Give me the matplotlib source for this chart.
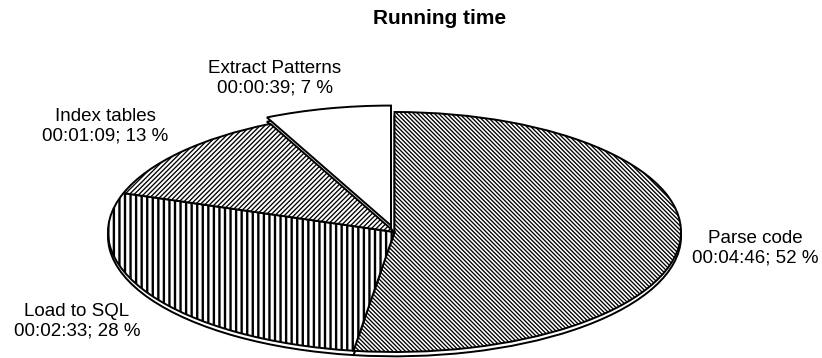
import matplotlib
matplotlib.use("Agg")
import matplotlib.pyplot as plt

plt.rcParams['font.family'] = ['Liberation Sans', 'DejaVu Sans']

# Running time per stage, in seconds
stages = ["Parse code", "Load to SQL", "Index tables", "Extract Patterns"]
seconds = [286, 153, 69, 39]
hatches = ["\\" * 8, "|||", "/" * 7, ""]
hatch_widths = [0.95, 1.7, 0.95, 1.0]
explode = [0, 0, 0, 0.055]

W, H = 822, 358
fig = plt.figure(figsize=(W / 100, H / 100), dpi=100)

# pie geometry in pixels (centre measured from the top-left corner)
cx, cy = 394.5, 232
rx, ry = 286.5, 120
lim = 1.15
ax = fig.add_axes([(cx - lim * rx) / W, (H - cy - lim * ry) / H,
                   2 * lim * rx / W, 2 * lim * ry / H])


def hms(s):
    return f"{s // 3600:02d}:{(s % 3600) // 60:02d}:{s % 60:02d}"


def draw_pie(center, z, pattern):
    wedges, _ = ax.pie(seconds, startangle=90, counterclock=False,
                       explode=explode, center=center,
                       colors=["white"] * len(seconds), hatch=pattern,
                       wedgeprops=dict(edgecolor="black", linewidth=1.4))
    for w, hw in zip(wedges, hatch_widths):
        w.set_zorder(z)
        if hasattr(w, "set_hatch_linewidth"):
            w.set_hatch_linewidth(hw)
        else:
            w._hatch_linewidth = hw
    return wedges


# thin side of the disc, then the hatched top face
draw_pie((0, -0.036), 1, [""] * len(seconds))
draw_pie((0, 0), 2, hatches)

ax.set_aspect("auto")
ax.set_xlim(-lim, lim)
ax.set_ylim(-lim, lim)
ax.axis("off")

total = sum(seconds)
labels = {s: f"{s}\n{hms(v)}; {round(100 * v / total)} %"
          for s, v in zip(stages, seconds)}

# label anchors in pixels from the top-left corner
label_pos = {
    "Extract Patterns": (275, 78),
    "Index tables": (105, 126),
    "Load to SQL": (77, 321),
    "Parse code": (755, 248),
}
for s, (x, y) in label_pos.items():
    fig.text(x / W, 1 - y / H, labels[s], ha="center", va="center",
             multialignment="center", fontsize=13.5, linespacing=1.2)

fig.text(440 / W, 1 - 19 / H, "Running time", ha="center", va="center",
         fontsize=15, fontweight="bold")

fig.savefig("out.png", dpi=100)
